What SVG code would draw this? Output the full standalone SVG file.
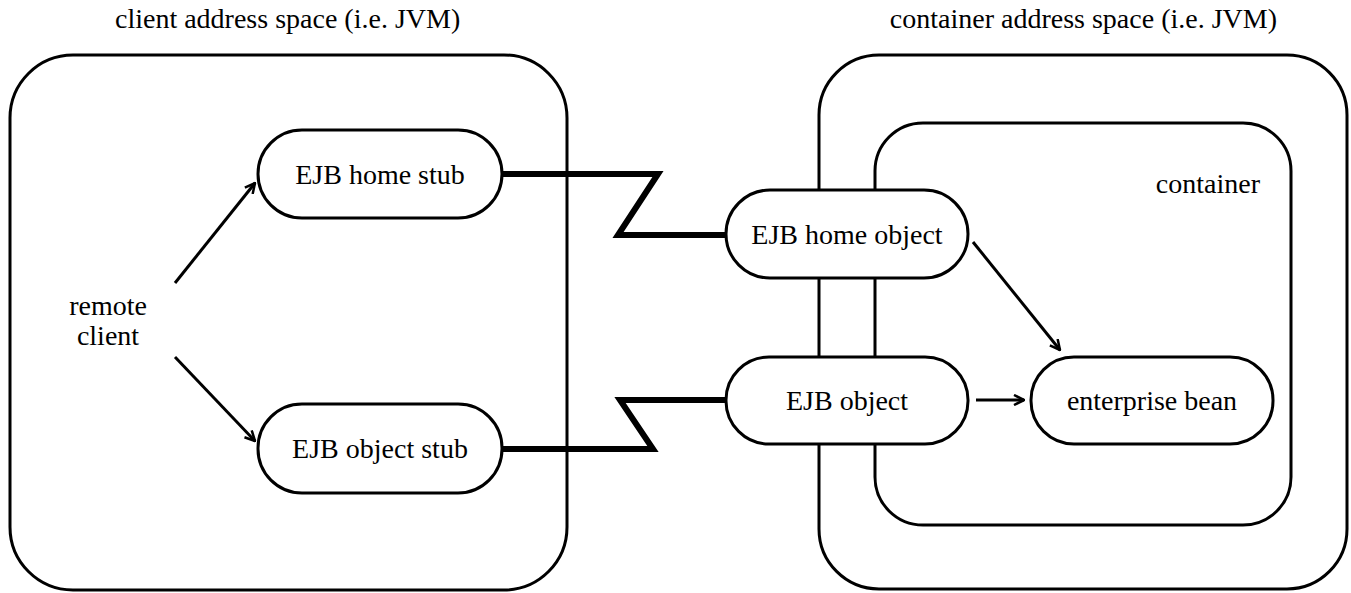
<svg xmlns="http://www.w3.org/2000/svg" width="1351" height="593" viewBox="0 0 1351 593">
<style>
text{font-family:"Liberation Serif","Times New Roman",serif;font-size:28px;fill:#000}
.box{fill:none;stroke:#000;stroke-width:3}
.pill{fill:#fff;stroke:#000;stroke-width:3}
.arr{fill:none;stroke:#000;stroke-width:3;marker-end:url(#open)}
.zig{fill:none;stroke:#000;stroke-width:6;stroke-linejoin:miter}
.c{text-anchor:middle}
</style>
<defs>
<marker id="open" viewBox="0 0 12 12" refX="11" refY="6" markerWidth="12" markerHeight="12" markerUnits="userSpaceOnUse" orient="auto">
<path d="M1,1 L11,6 L1,11" fill="none" stroke="#000" stroke-width="2.5"/>
</marker>
</defs>
<g id="client-space">
<rect class="box" x="10" y="55" width="557" height="535" rx="63" ry="63"/>
<text x="115" y="28">client address space (i.e. JVM)</text>
</g>
<g id="container-space">
<rect class="box" x="819" y="55" width="528" height="534" rx="60" ry="60"/>
<text x="1277" y="28" text-anchor="end">container address space (i.e. JVM)</text>
</g>
<g id="container">
<rect class="box" x="875" y="123" width="416" height="402" rx="48" ry="48"/>
<text x="1260" y="193" text-anchor="end">container</text>
</g>
<g id="connectors">
<line class="arr" x1="175" y1="283" x2="255" y2="183"/>
<line class="arr" x1="175" y1="357" x2="255" y2="441"/>
<polyline class="zig" points="502,174 658,174 618,235 728,235"/>
<polyline class="zig" points="502,449 653,449 620,400 728,400"/>
<line class="arr" x1="973" y1="242" x2="1060" y2="350"/>
<line class="arr" x1="976" y1="400" x2="1024" y2="400"/>
</g>
<g id="remote-client">
<text class="c" x="108" y="315">remote</text>
<text class="c" x="108" y="345">client</text>
</g>
<g id="home-stub">
<rect class="pill" x="258" y="130" width="244" height="88" rx="44" ry="44"/>
<text class="c" x="380" y="184">EJB home stub</text>
</g>
<g id="object-stub">
<rect class="pill" x="258" y="404" width="244" height="89" rx="44" ry="44"/>
<text class="c" x="380" y="458">EJB object stub</text>
</g>
<g id="home-object">
<rect class="pill" x="726" y="190" width="242" height="88" rx="44" ry="44"/>
<text class="c" x="847" y="244">EJB home object</text>
</g>
<g id="ejb-object">
<rect class="pill" x="726" y="357" width="242" height="87" rx="43" ry="43"/>
<text class="c" x="847" y="410">EJB object</text>
</g>
<g id="enterprise-bean">
<rect class="pill" x="1031" y="357" width="242" height="87" rx="43" ry="43"/>
<text class="c" x="1152" y="410">enterprise bean</text>
</g>
</svg>
